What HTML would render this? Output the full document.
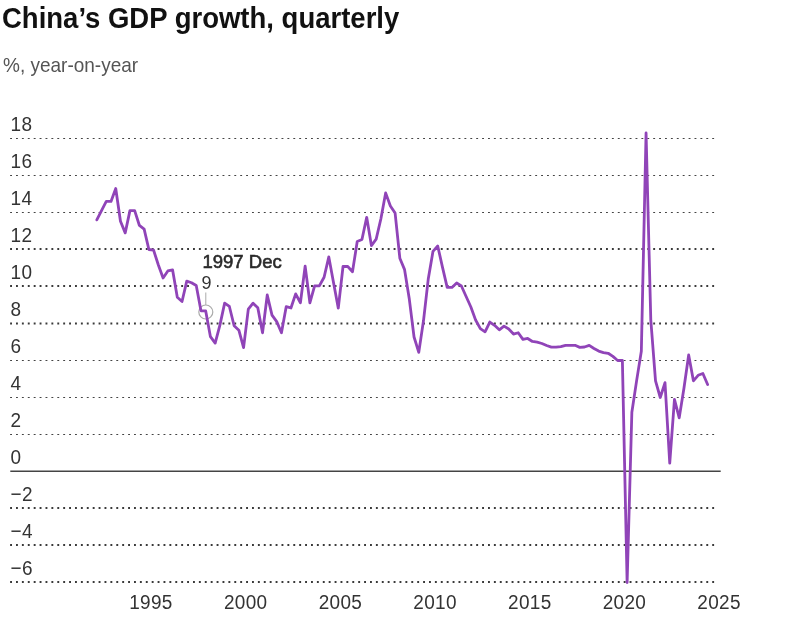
<!DOCTYPE html>
<html><head><meta charset="utf-8"><style>
html,body{margin:0;padding:0;background:#fff;width:789px;height:622px;overflow:hidden}
body{font-family:"Liberation Sans",sans-serif;position:relative}
.t{position:absolute;left:2px;top:3px;font-size:27.5px;font-weight:bold;color:#111;white-space:nowrap;transform:scaleY(1.08);will-change:transform;transform-origin:0 25px}
.s{position:absolute;left:3px;top:54.5px;font-size:19px;color:#555;white-space:nowrap;transform:scaleY(1.06);will-change:transform;transform-origin:0 17px}
svg{position:absolute;left:0;top:0;will-change:transform}
.yl{font-size:19px;fill:#333;letter-spacing:0.4px}
.xl{font-size:19px;fill:#333;letter-spacing:0.3px}
.tt{font-size:18.5px;fill:#2a2a2a;stroke:#2a2a2a;stroke-width:0.6px}
.tv{font-size:18px;fill:#333}
</style></head><body>
<div class="t">China’s GDP growth, quarterly</div>
<div class="s">%, year-on-year</div>
<svg width="789" height="622" viewBox="0 0 789 622">
<line x1="10.1" x2="718" y1="138.5" y2="138.5" stroke="#444" stroke-width="1.1" stroke-dasharray="1.9 4.0"/>
<text x="10.5" y="0" transform="translate(0 131.1) scale(1 1.1)" class="yl">18</text>
<line x1="10.1" x2="718" y1="175.5" y2="175.5" stroke="#444" stroke-width="1.1" stroke-dasharray="1.9 4.0"/>
<text x="10.5" y="0" transform="translate(0 168.1) scale(1 1.1)" class="yl">16</text>
<line x1="10.1" x2="718" y1="212.5" y2="212.5" stroke="#444" stroke-width="1.1" stroke-dasharray="1.9 4.0"/>
<text x="10.5" y="0" transform="translate(0 205.1) scale(1 1.1)" class="yl">14</text>
<line x1="10.1" x2="718" y1="249.0" y2="249.0" stroke="#3a3a3a" stroke-width="2" stroke-dasharray="1.9 4.0"/>
<text x="10.5" y="0" transform="translate(0 242.1) scale(1 1.1)" class="yl">12</text>
<line x1="10.1" x2="718" y1="286.0" y2="286.0" stroke="#3a3a3a" stroke-width="2" stroke-dasharray="1.9 4.0"/>
<text x="10.5" y="0" transform="translate(0 279.1) scale(1 1.1)" class="yl">10</text>
<line x1="10.1" x2="718" y1="323.5" y2="323.5" stroke="#3a3a3a" stroke-width="2" stroke-dasharray="1.9 4.0"/>
<text x="10.5" y="0" transform="translate(0 316.1) scale(1 1.1)" class="yl">8</text>
<line x1="10.1" x2="718" y1="360.5" y2="360.5" stroke="#444" stroke-width="1.1" stroke-dasharray="1.9 4.0"/>
<text x="10.5" y="0" transform="translate(0 353.1) scale(1 1.1)" class="yl">6</text>
<line x1="10.1" x2="718" y1="397.5" y2="397.5" stroke="#444" stroke-width="1.1" stroke-dasharray="1.9 4.0"/>
<text x="10.5" y="0" transform="translate(0 390.1) scale(1 1.1)" class="yl">4</text>
<line x1="10.1" x2="718" y1="434.5" y2="434.5" stroke="#444" stroke-width="1.1" stroke-dasharray="1.9 4.0"/>
<text x="10.5" y="0" transform="translate(0 427.1) scale(1 1.1)" class="yl">2</text>
<line x1="10.3" x2="720.7" y1="471.2" y2="471.2" stroke="#444" stroke-width="1.4"/>
<text x="10.5" y="0" transform="translate(0 464.1) scale(1 1.1)" class="yl">0</text>
<line x1="10.1" x2="718" y1="508.0" y2="508.0" stroke="#3a3a3a" stroke-width="2" stroke-dasharray="1.9 4.0"/>
<text x="10.5" y="0" transform="translate(0 501.1) scale(1 1.1)" class="yl">−2</text>
<line x1="10.1" x2="718" y1="545.0" y2="545.0" stroke="#3a3a3a" stroke-width="2" stroke-dasharray="1.9 4.0"/>
<text x="10.5" y="0" transform="translate(0 538.1) scale(1 1.1)" class="yl">−4</text>
<line x1="10.1" x2="718" y1="582.0" y2="582.0" stroke="#3a3a3a" stroke-width="2" stroke-dasharray="1.9 4.0"/>
<text x="10.5" y="0" transform="translate(0 575.1) scale(1 1.1)" class="yl">−6</text>

<text x="151.0" y="0" transform="translate(0 608.6) scale(1 1.1)" class="xl" text-anchor="middle">1995</text>
<text x="245.7" y="0" transform="translate(0 608.6) scale(1 1.1)" class="xl" text-anchor="middle">2000</text>
<text x="340.4" y="0" transform="translate(0 608.6) scale(1 1.1)" class="xl" text-anchor="middle">2005</text>
<text x="435.1" y="0" transform="translate(0 608.6) scale(1 1.1)" class="xl" text-anchor="middle">2010</text>
<text x="529.8" y="0" transform="translate(0 608.6) scale(1 1.1)" class="xl" text-anchor="middle">2015</text>
<text x="624.5" y="0" transform="translate(0 608.6) scale(1 1.1)" class="xl" text-anchor="middle">2020</text>
<text x="719.1" y="0" transform="translate(0 608.6) scale(1 1.1)" class="xl" text-anchor="middle">2025</text>

<rect x="189.5" y="271" width="27.5" height="20" fill="#fff"/>
<circle cx="205.8" cy="312" r="7" fill="none" stroke="#aaa" stroke-width="1.2"/>
<path d="M96.80,219.90 L101.53,210.65 L106.27,201.40 L111.00,201.40 L115.74,188.45 L120.47,221.20 L125.21,232.85 L129.94,210.65 L134.68,210.65 L139.41,225.45 L144.15,229.15 L148.88,249.50 L153.62,250.24 L158.36,265.04 L163.09,277.99 L167.82,270.96 L172.56,269.85 L177.30,297.23 L182.03,301.49 L186.76,281.13 L191.50,282.80 L196.24,285.57 L200.97,310.74 L205.70,310.92 L210.44,336.63 L215.18,343.11 L219.91,325.16 L224.65,303.15 L229.38,306.48 L234.12,325.72 L238.85,330.16 L243.58,347.55 L248.32,309.07 L253.06,303.15 L257.79,307.77 L262.53,332.75 L267.26,295.01 L272.00,315.18 L276.73,321.65 L281.47,332.75 L286.20,306.66 L290.94,307.96 L295.67,293.90 L300.41,302.78 L305.14,266.15 L309.88,302.78 L314.61,285.95 L319.35,285.95 L324.08,277.25 L328.81,256.90 L333.55,282.80 L338.29,308.14 L343.02,266.52 L347.75,266.52 L352.49,271.70 L357.23,241.55 L361.96,239.51 L366.70,217.31 L371.43,245.61 L376.17,239.14 L380.90,218.79 L385.64,192.89 L390.37,206.03 L395.11,213.06 L399.84,258.20 L404.58,269.66 L409.31,299.08 L414.05,337.00 L418.78,352.36 L423.52,320.54 L428.25,279.10 L432.99,251.35 L437.72,245.99 L442.46,267.07 L447.19,287.43 L451.93,287.43 L456.66,282.99 L461.40,285.95 L466.13,296.49 L470.87,307.03 L475.60,319.99 L480.34,328.68 L485.07,331.83 L489.81,322.02 L494.54,325.35 L499.28,329.79 L504.01,326.09 L508.75,329.05 L513.48,334.05 L518.22,332.75 L522.95,339.41 L527.69,338.49 L532.42,341.44 L537.15,342.19 L541.89,343.48 L546.62,345.51 L551.36,347.18 L556.10,347.18 L560.83,346.62 L565.57,345.33 L570.30,345.33 L575.03,345.33 L579.77,347.37 L584.50,347.00 L589.24,345.33 L593.98,348.48 L598.71,351.06 L603.45,352.55 L608.18,353.29 L612.91,356.43 L617.65,360.50 L622.38,360.50 L627.12,582.50 L631.86,412.30 L636.59,380.85 L641.33,351.25 L646.06,132.95 L650.79,319.80 L655.53,380.85 L660.26,397.50 L665.00,382.70 L669.74,463.18 L674.47,399.35 L679.21,417.85 L683.94,388.25 L688.67,354.95 L693.41,380.85 L698.14,375.30 L702.88,373.45 L707.62,384.55" fill="none" stroke="#9044b8" stroke-width="2.8" stroke-linejoin="round" stroke-linecap="round"/>
<text x="202.5" y="267.5" class="tt">1997 Dec</text>
<text x="201.6" y="289" class="tv">9</text>
<line x1="205.8" x2="205.8" y1="292.5" y2="305" stroke="#aaa" stroke-width="1"/>
</svg>
</body></html>
